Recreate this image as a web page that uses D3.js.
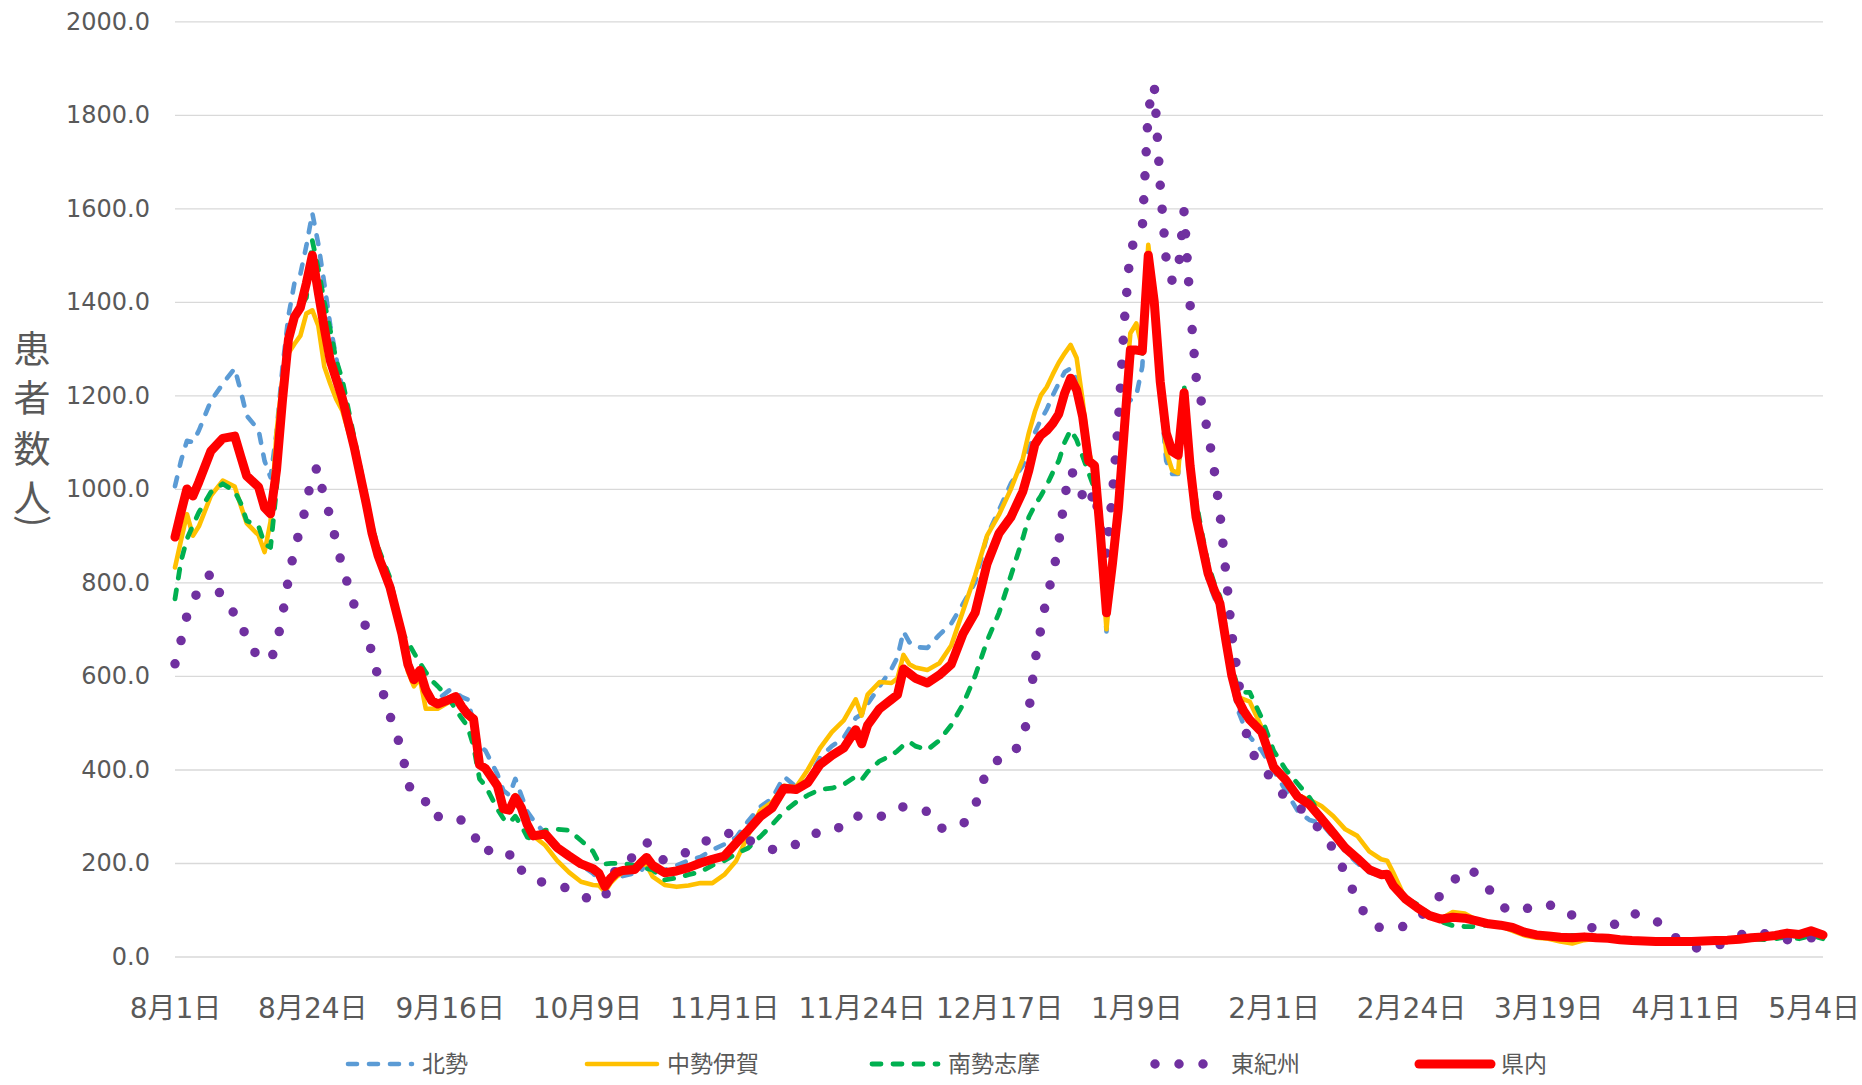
<!DOCTYPE html>
<html><head><meta charset="utf-8">
<script src="https://cdn.jsdelivr.net/npm/d3@7"></script>
<style>body{margin:0;background:#fff;} svg{display:block}</style>
</head><body>
<svg id="chart" width="1862" height="1085"></svg>
<script>
// day offsets from 8月1日
const days = [0,1,2,3,4,6,8,10,11,12,
 14,15,16,17,18,19,20,21,22,23,
 24,25,26,27,28,30,32,33,34,36,
 38,39,40,41,42,43,44,46,47,48,
 49,50,51,52,54,55,56,57,58,59,
 60,62,64,66,68,70,71,72,73,74,
 75,77,78,79,80,82,84,86,88,90,
 92,94,96,98,100,102,104,106,108,110,
 112,114,115,116,118,120,121,122,123,124,
 126,128,130,132,134,136,138,140,142,143,
 144,145,146,147,148,149,150,151,152,153,
 154,155,156,157,158,159,160,161,162,163,
 164,165,166,167,168,169,170,171,172,173,
 174,175,176,177,178,179,180,182,184,186,
 188,190,192,194,196,198,200,202,203,204,
 206,208,210,212,214,216,218,220,222,224,
 226,228,230,232,234,236,238,240,242,244,
 246,248,250,252,254,256,258,260,262,264,
 266,268,270,272,274,276];

const hokusei = [1006,1060,1103,1100,1125,1188,1225,1258,1210,1157,
 1126,1060,1025,1120,1260,1370,1440,1460,1520,1590,
 1524,1440,1350,1280,1215,1105,985,920,870,805,
 700,640,600,615,575,555,550,570,565,555,
 550,500,452,440,390,355,345,380,345,310,
 292,262,235,215,195,178,165,157,165,172,
 172,178,182,200,188,185,195,205,213,228,
 240,255,290,320,338,385,363,378,425,450,
 468,510,518,540,578,615,640,695,672,662,
 660,688,712,755,800,900,955,1012,1050,1085,
 1120,1148,1170,1200,1226,1250,1258,1233,1169,1070,
 1040,880,695,850,1000,1175,1190,1200,1262,1500,
 1390,1210,1060,1032,1032,1190,1020,945,870,805,
 770,740,665,590,527,495,470,440,398,355,
 312,292,285,255,225,200,180,172,170,148,
 120,103,88,80,82,80,75,70,65,58,
 50,45,42,40,38,40,38,37,35,33,
 32,31,31,31,31,32,33,34,36,38,
 40,42,45,42,48,42];

const chuseiIga = [832,890,946,900,920,985,1018,1005,965,927,
 901,865,930,1120,1235,1290,1310,1328,1375,1382,
 1349,1262,1225,1192,1168,1080,960,895,850,785,
 680,610,578,595,530,530,530,545,550,530,
 513,500,410,400,362,316,313,345,315,280,
 258,238,205,180,160,153,152,138,158,171,
 180,185,200,195,171,153,149,152,157,157,
 175,205,260,312,330,365,362,400,445,480,
 505,550,515,560,587,585,595,645,625,618,
 613,627,665,740,815,900,945,1000,1065,1120,
 1165,1200,1218,1245,1270,1290,1308,1280,1190,1080,
 1040,880,700,840,960,1180,1333,1354,1300,1522,
 1410,1220,1080,1040,1034,1200,1040,955,885,820,
 790,760,680,605,555,550,545,490,405,380,
 345,335,322,300,272,258,225,208,205,180,
 125,105,88,80,95,92,78,70,65,55,
 45,40,38,32,28,35,38,38,36,33,
 32,30,28,28,30,32,33,34,36,38,
 40,43,48,45,52,45];

const nanseiShima = [765,845,893,922,950,993,1011,995,970,932,
 920,882,875,1000,1200,1310,1370,1390,1409,1531,
 1471,1400,1340,1275,1235,1110,985,920,875,810,
 695,672,650,628,608,590,578,550,528,510,
 492,450,380,365,315,295,286,300,280,255,
 250,270,272,270,248,225,200,198,199,199,
 199,195,190,188,185,164,168,175,181,195,
 205,220,232,256,282,310,330,345,357,360,
 368,385,378,395,418,430,440,452,459,450,
 442,462,495,540,600,675,735,815,895,940,
 965,985,1008,1035,1060,1100,1126,1105,1070,1035,
 1000,880,740,850,960,1160,1290,1295,1290,1495,
 1400,1235,1120,1085,1075,1222,1060,975,905,840,
 800,770,700,620,575,565,565,510,440,400,
 370,340,300,265,232,210,185,176,175,150,
 125,112,92,75,66,64,64,68,66,58,
 50,45,42,40,45,44,40,38,35,33,
 32,31,30,30,31,32,33,34,36,38,
 36,38,42,38,45,38];

const higashiKishu = [626,675,729,760,785,820,762,733,725,672,
 641,638,634,665,730,808,870,916,965,1036,
 1046,975,943,885,835,752,705,645,599,515,
 440,372,340,334,331,334,300,288,290,292,
 280,267,226,232,212,212,217,221,185,170,
 165,157,152,145,130,120,117,130,150,198,
 205,213,235,245,220,205,213,225,240,255,
 262,265,250,235,229,228,240,249,270,276,
 275,300,300,296,298,312,320,320,320,316,
 310,275,273,283,322,400,422,428,465,525,
 631,700,770,815,884,985,1040,1022,985,962,
 998,916,860,990,1145,1360,1513,1534,1558,1810,
 1864,1650,1490,1445,1465,1595,1395,1240,1180,1120,
 1045,948,820,688,600,505,440,412,370,340,
 322,300,266,230,178,120,75,60,60,60,
 65,78,104,132,160,188,178,145,108,96,
 100,112,110,107,88,70,57,64,73,92,
 88,77,55,33,18,19,21,33,45,55,
 50,37,36,37,40,42];

const kennai = [897,950,1000,985,1015,1081,1108,1113,1070,1028,
 1004,960,947,1040,1190,1320,1368,1388,1440,1500,
 1420,1345,1275,1235,1195,1090,970,905,858,790,
 690,625,592,612,570,547,540,550,556,535,
 518,508,410,402,365,316,313,340,318,282,
 258,262,233,215,198,188,178,150,168,180,
 184,186,200,212,195,179,183,190,200,208,
 215,243,270,299,318,360,357,372,410,430,
 446,485,455,495,530,550,560,615,605,595,
 585,602,625,691,735,840,905,940,995,1040,
 1095,1115,1125,1140,1160,1205,1237,1212,1155,1060,
 1050,900,735,840,960,1130,1297,1297,1295,1500,
 1400,1230,1120,1080,1072,1206,1050,940,880,820,
 785,755,675,600,550,525,506,480,405,378,
 342,325,295,264,232,210,186,175,176,152,
 124,105,88,80,84,82,76,70,67,62,
 52,46,44,41,40,42,40,39,36,34,
 33,32,32,32,32,33,34,35,37,40,
 42,45,50,47,55,46];

const seriesNames = ["北勢","中勢伊賀","南勢志摩","東紀州","県内"];
const tickDays = [0,23,46,69,92,115,138,161,184,207,230,253,276];
const tickLabels = ["8月1日","8月24日","9月16日","10月9日","11月1日","11月24日","12月17日","1月9日","2月1日","2月24日","3月19日","4月11日","5月4日"];
const yTicks = [0,200,400,600,800,1000,1200,1400,1600,1800,2000];
const yTitleChars = ["患","者","数","人"];
const yTitleClose = ")";

const styles = [
  {color:"#5B9BD5", width:4.6, dash:"9 12", cap:"round"},
  {color:"#FFC000", width:4.6, dash:null, cap:"round"},
  {color:"#00B050", width:4.8, dash:"9 12", cap:"round"},
  {color:"#7030A0", width:9.5, dash:"0 24", cap:"round"},
  {color:"#FF0000", width:9, dash:null, cap:"round"}
];
const seriesData = [hokusei, chuseiIga, nanseiShima, higashiKishu, kennai];

const svg = d3.select("#chart");
const x = d3.scaleLinear().domain([0,276]).range([175,1823]);
const y = d3.scaleLinear().domain([0,2000]).range([956.5,21.4]);
const FONT = "'DejaVu Sans','Noto Sans CJK JP',sans-serif";
const CJK = "'Noto Sans CJK JP',sans-serif";

// gridlines + y labels
const yAxis = d3.axisLeft(y).tickValues(yTicks).tickFormat(d3.format(".1f"))
  .tickSize(-(1823-175)).tickPadding(25);
const gy = svg.append("g").attr("transform","translate(175,0)").call(yAxis);
gy.select(".domain").remove();
gy.selectAll(".tick line").attr("stroke","#D9D9D9").attr("stroke-width",1.3);
gy.selectAll(".tick text").attr("fill","#595959").style("font-family",FONT).style("font-size","24px");

// x labels
const xAxis = d3.axisBottom(x).tickValues(tickDays).tickFormat((d,i)=>tickLabels[i]).tickSize(0);
const gx = svg.append("g").attr("transform","translate(0,956.5)").call(xAxis);
gx.select(".domain").remove();
gx.selectAll(".tick text").attr("fill","#595959").style("font-family",FONT).style("font-size","28px")
  .attr("y",51).attr("dy","0.36em");
gx.selectAll(".tick text").each(function(){
  const bb = this.getBBox();
  const tx = +this.parentNode.getAttribute("transform").match(/translate\(([-\d.]+)/)[1];
  if (tx + bb.width/2 > 1860) d3.select(this).attr("x", 1860 - tx - bb.width/2);
});

// y title (stacked vertically)
const titleY = [350,399,450,499];
yTitleChars.forEach((c,i)=>{
  svg.append("text").attr("x",32).attr("y",titleY[i]).attr("dy","0.36em")
    .attr("text-anchor","middle").style("font-family",CJK).style("font-size","37px")
    .attr("fill","#595959").text(c);
});
svg.append("text").attr("transform","translate(32,521) rotate(90)")
  .attr("text-anchor","middle").attr("dy","0.3em")
  .style("font-family",CJK).style("font-size","36px").attr("fill","#595959").text(yTitleClose);

// lines
const line = d3.line().x((d,i)=>x(days[i])).y(d=>y(d));
seriesData.forEach((vals,k)=>{
  const st = styles[k];
  svg.append("path").datum(vals).attr("d",line).attr("fill","none")
    .attr("stroke",st.color).attr("stroke-width",st.width)
    .attr("stroke-linecap",st.cap).attr("stroke-linejoin","round")
    .attr("stroke-dasharray",st.dash);
});

// legend
const legendX = [348,587,872,1155,1419];
const legendLen = [64,70,66,66,72];
const ly = 1064;
seriesNames.forEach((name,k)=>{
  const st = styles[k];
  const g = svg.append("g");
  g.append("line").attr("x1",legendX[k]).attr("x2",legendX[k]+legendLen[k]).attr("y1",ly).attr("y2",ly)
    .attr("stroke",st.color).attr("stroke-width",st.width).attr("stroke-linecap",st.cap)
    .attr("stroke-dasharray",st.dash);
  g.append("text").attr("x",legendX[k]+legendLen[k]+10).attr("y",ly).attr("dy","0.36em")
    .style("font-family",CJK).style("font-size","23px")
    .attr("fill","#595959").text(name);
});
</script>
</body></html>
